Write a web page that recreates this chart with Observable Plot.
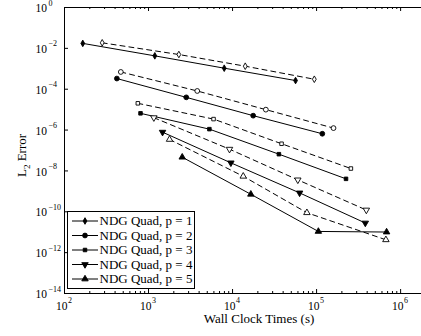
<!DOCTYPE html>
<html>
<head>
<meta charset="utf-8">
<script src="https://cdn.jsdelivr.net/npm/d3@7"></script>
<script src="https://cdn.jsdelivr.net/npm/@observablehq/plot@0.6"></script>
<style>
  html, body { margin: 0; padding: 0; background: white; overflow: hidden; }
</style>
</head>
<body>
<div id="chart"></div>
<script>
// ---- data ----
const seriesNames = ["NDG Quad, p = 1", "NDG Quad, p = 2", "NDG Quad, p = 3", "NDG Quad, p = 4", "NDG Quad, p = 5"];
const seriesSymbols = ["diamond", "circle", "square", "triangle", "triangle"];
const seriesRotate = [0, 0, 0, 180, 0];

// solid lines, filled markers
const timeSolid = [
  [165, 1188, 7960, 56200],
  [420, 2812, 17600, 117000],
  [803, 5300, 35600, 224000],
  [1468, 9550, 62800, 380000],
  [2518, 16500, 105000, 681000]
];
const errSolid = [
  [1.75e-2, 4.3e-3, 1.07e-3, 2.66e-4],
  [3.33e-4, 4.0e-5, 5.07e-6, 6.6e-7],
  [6.6e-6, 1.11e-6, 6.6e-8, 4.1e-9],
  [7.9e-7, 2.49e-8, 8.4e-10, 2.82e-11],
  [4.7e-8, 7.2e-10, 1.09e-11, 1.02e-11]
];
// dashed lines, open markers
const timeDashed = [
  [281, 2296, 14160, 94000],
  [468, 3800, 24900, 159000],
  [746, 5940, 38300, 256000],
  [1157, 9200, 59800, 391000],
  [1778, 13400, 76700, 668000]
];
const errDashed = [
  [1.87e-2, 5.0e-3, 1.34e-3, 3.08e-4],
  [7.0e-4, 8.2e-5, 1.0e-5, 1.25e-6],
  [2.04e-5, 3.45e-6, 2.14e-7, 1.31e-8],
  [4.05e-6, 1.16e-7, 3.65e-9, 1.22e-10],
  [3.48e-7, 5.48e-9, 9.0e-11, 4.26e-12]
];

// ticks and tick labels
const xMajor = [1e2, 1e3, 1e4, 1e5, 1e6];
const xExpLabels = ["2", "3", "4", "5", "6"];
const xMinor = [];
for (let n = 2; n <= 6; n++) for (let k = 2; k <= 9; k++) xMinor.push(k * 10 ** n);
const yMajor = [1, 1e-2, 1e-4, 1e-6, 1e-8, 1e-10, 1e-12, 1e-14];
const yExpLabels = ["0", "\u22122", "\u22124", "\u22126", "\u22128", "\u221210", "\u221212", "\u221214"];
const xLabel = "Wall Clock Times (s)";
const yLabelMain = "L";
const yLabelSub = "2";
const yLabelRest = " Error";

// ---- build tables ----
const solidRows = [], dashedRows = [];
seriesNames.forEach((name, i) => {
  timeSolid[i].forEach((t, j) => solidRows.push({p: i, t, e: errSolid[i][j]}));
  timeDashed[i].forEach((t, j) => dashedRows.push({p: i, t, e: errDashed[i][j]}));
});

const FONT = "'Liberation Serif', 'Times New Roman', serif";
const W = 421, H = 336, ML = 64, MR = -6, MT = 7, MB = 43;
const innerH = H - MT - MB, innerW = W - MR - ML;
const markerR = [2.0, 2.4, 2.0, 2.4, 2.4];

const dotMarks = [];
seriesNames.forEach((name, i) => {
  dotMarks.push(Plot.dot(dashedRows.filter(d => d.p === i), {
    x: "t", y: "e", symbol: seriesSymbols[i], r: markerR[i], rotate: seriesRotate[i],
    fill: "white", stroke: "black", strokeWidth: 0.9
  }));
  dotMarks.push(Plot.dot(solidRows.filter(d => d.p === i), {
    x: "t", y: "e", symbol: seriesSymbols[i], r: markerR[i], rotate: seriesRotate[i],
    fill: "black", stroke: "black", strokeWidth: 0.9
  }));
});

const chart = Plot.plot({
  width: W, height: H,
  marginLeft: ML, marginRight: MR, marginTop: MT, marginBottom: MB,
  x: {type: "log", domain: [1e2, 10 ** 6.32], axis: null},
  y: {type: "log", domain: [1e-14, 1], axis: null},
  style: {fontFamily: FONT, background: "white", overflow: "hidden", color: "black"},
  marks: [
    Plot.line(dashedRows, {x: "t", y: "e", z: "p", stroke: "black", strokeWidth: 1, strokeDasharray: "5,4"}),
    Plot.line(solidRows, {x: "t", y: "e", z: "p", stroke: "black", strokeWidth: 1}),
    ...dotMarks,
    // ticks (inward)
    Plot.tickX(xMajor, {x: d => d, insetTop: innerH - 4, stroke: "black"}),
    Plot.tickX(xMajor, {x: d => d, insetBottom: innerH - 4, stroke: "black"}),
    Plot.tickX(xMinor, {x: d => d, insetTop: innerH - 2, stroke: "black"}),
    Plot.tickX(xMinor, {x: d => d, insetBottom: innerH - 2, stroke: "black"}),
    Plot.tickY(yMajor, {y: d => d, insetRight: innerW - 4, stroke: "black"}),
    Plot.frame({stroke: "black", strokeWidth: 1}),
    // x tick labels
    Plot.text(xMajor, {x: d => d, frameAnchor: "bottom", lineAnchor: "middle", text: () => "10", dy: 12.5, dx: 3, textAnchor: "end", fontSize: 11.5, fontFamily: FONT, fill: "black"}),
    Plot.text(xMajor, {x: d => d, frameAnchor: "bottom", lineAnchor: "middle", text: (d, i) => xExpLabels[i], dy: 7, dx: 3.5, textAnchor: "start", fontSize: 8, fontFamily: FONT, fill: "black"}),
    // y tick labels
    Plot.text(yMajor, {y: d => d, frameAnchor: "left", lineAnchor: "middle", text: () => "10", dx: -29, dy: 1, textAnchor: "start", fontSize: 11.5, fontFamily: FONT, fill: "black"}),
    Plot.text(yMajor, {y: d => d, frameAnchor: "left", lineAnchor: "middle", text: (d, i) => yExpLabels[i], dx: -16, dy: -4.5, textAnchor: "start", fontSize: 8, fontFamily: FONT, fill: "black"}),
    // x label
    Plot.text([xLabel], {frameAnchor: "bottom", lineAnchor: "middle", text: d => d, dy: 25, dx: 13, fontSize: 13, fontFamily: FONT, fill: "black"})
  ]
});

document.getElementById("chart").appendChild(chart);

// y label with subscript
const svg = d3.select(chart);
const yl = svg.append("text")
  .attr("transform", "translate(25.5,155.5) rotate(-90)")
  .attr("text-anchor", "middle")
  .attr("font-family", FONT)
  .attr("font-size", 13)
  .attr("fill", "black");
yl.append("tspan").text(yLabelMain);
yl.append("tspan").attr("font-size", 9).attr("dy", 4).text(yLabelSub);
yl.append("tspan").attr("dy", -4).text(yLabelRest);

// legend
const lg = svg.append("g").attr("text-anchor", "start");
lg.append("rect").attr("x", 67.5).attr("y", 211.5).attr("width", 127).attr("height", 77)
  .attr("fill", "white").attr("stroke", "black").attr("stroke-width", 1);
const symMap = {diamond: d3.symbolDiamond, circle: d3.symbolCircle, square: d3.symbolSquare, triangle: d3.symbolTriangle};
seriesNames.forEach((name, i) => {
  const y = 221 + i * 14.5;
  lg.append("line").attr("x1", 72).attr("x2", 98).attr("y1", y).attr("y2", y)
    .attr("stroke", "black").attr("stroke-width", 1);
  lg.append("path").attr("d", d3.symbol(symMap[seriesSymbols[i]], Math.PI * markerR[i] * markerR[i])())
    .attr("transform", `translate(85,${y}) rotate(${seriesRotate[i]})`)
    .attr("fill", "black").attr("stroke", "black").attr("stroke-width", 0.9);
  lg.append("text").attr("x", 99.5).attr("y", y).attr("dy", "0.33em")
    .attr("text-anchor", "start")
    .attr("font-family", FONT).attr("font-size", 13).attr("fill", "black").text(name);
});
</script>
</body>
</html>
